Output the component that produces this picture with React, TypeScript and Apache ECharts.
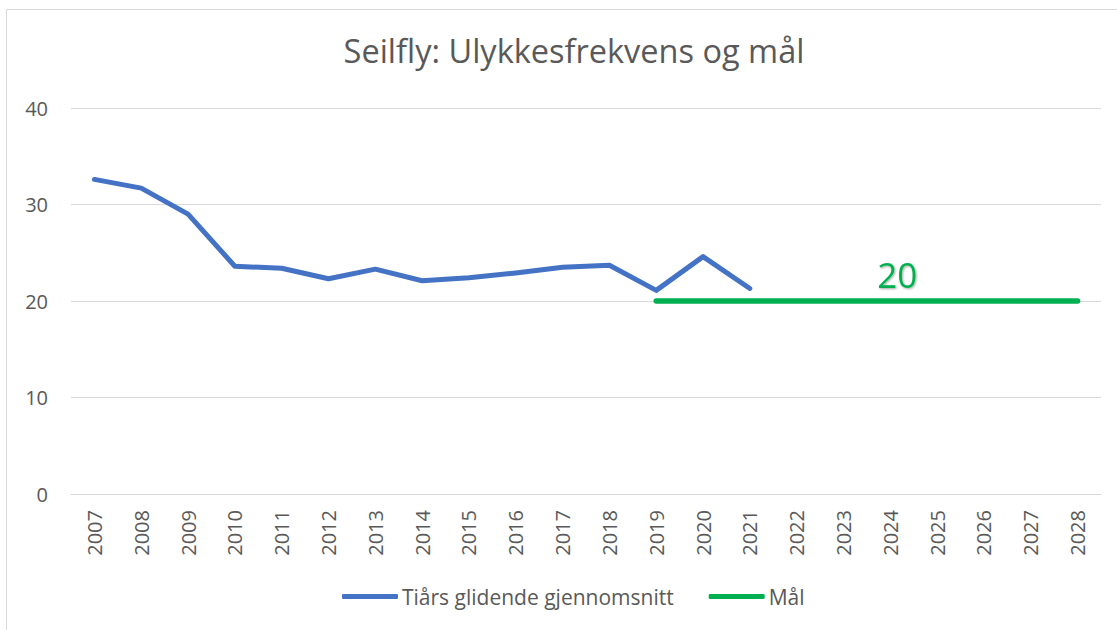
import React, { useEffect, useRef } from "react";
import * as echarts from "echarts";

const years = [
  "2007", "2008", "2009", "2010", "2011", "2012", "2013", "2014", "2015", "2016", "2017",
  "2018", "2019", "2020", "2021", "2022", "2023", "2024", "2025", "2026", "2027", "2028",
];
const averageValues = [
  32.6, 31.7, 29.0, 23.6, 23.4, 22.3, 23.3, 22.1, 22.4, 22.9, 23.5, 23.7, 21.1, 24.6, 21.3,
];
const goalStartYear = "2019";
const goalValue = 20;
const goalLabelYear = "2024";
const yTicks = { min: 0, max: 40, interval: 10 };

const FONT = "'Open Sans', 'Noto Sans', sans-serif";

export default function App() {
  const ref = useRef<HTMLDivElement>(null);

  useEffect(() => {
    document.body.style.margin = "0";
    if (!ref.current) return;
    const chart = echarts.init(ref.current, null, { renderer: "svg" });

    const avgData = years.map((_, i) => (i < averageValues.length ? averageValues[i] : null));
    const startIdx = years.indexOf(goalStartYear);
    const labelIdx = years.indexOf(goalLabelYear);
    const goalData = years.map((_, i) => {
      if (i < startIdx) return null;
      if (i === labelIdx) {
        return {
          value: goalValue,
          label: {
            show: true,
            position: "top",
            distance: 9,
            offset: [7, 0],
            formatter: "{c}",
            color: "#00B050",
            fontSize: 35,
            fontFamily: FONT,
            textShadowColor: "rgba(0,0,0,0.35)",
            textShadowBlur: 2,
            textShadowOffsetX: 1,
            textShadowOffsetY: 1,
          },
        };
      }
      return goalValue;
    });

    chart.setOption({
      animation: false,
      backgroundColor: "#ffffff",
      textStyle: { fontFamily: FONT },
      title: {
        text: "Seilfly: Ulykkesfrekvens og mål",
        left: 569,
        textAlign: "center",
        top: 29,
        textStyle: { color: "#595959", fontSize: 32.5, fontWeight: "normal", fontFamily: FONT },
      },
      graphic: [
        {
          type: "rect",
          shape: { x: 6.5, y: 9.5, width: 1200, height: 700 },
          style: { fill: "none", stroke: "#d9d9d9", lineWidth: 1 },
          silent: true,
        },
      ],
      legend: {
        bottom: 18,
        left: 337,
        itemWidth: 56,
        itemHeight: 5,
        itemGap: 35,
        icon: "roundRect",
        textStyle: { color: "#595959", fontSize: 21, fontFamily: FONT, padding: [0, 0, 0, -1] },
        data: ["Tiårs glidende gjennomsnitt", "Mål"],
      },
      grid: { left: 71, right: 16, top: 108, bottom: 136, containLabel: false },
      xAxis: {
        type: "category",
        data: years,
        boundaryGap: true,
        axisLine: { show: true, lineStyle: { color: "#d9d9d9", width: 1 } },
        axisTick: { show: false },
        axisLabel: {
          rotate: 90,
          margin: 16,
          color: "#595959",
          fontSize: 20,
          fontFamily: FONT,
          interval: 0,
        },
      },
      yAxis: {
        type: "value",
        min: yTicks.min,
        max: yTicks.max,
        interval: yTicks.interval,
        axisLine: { show: false },
        axisTick: { show: false },
        splitLine: { lineStyle: { color: "#d9d9d9", width: 1 } },
        axisLabel: { color: "#595959", fontSize: 20, margin: 23, fontFamily: FONT },
      },
      series: [
        {
          name: "Tiårs glidende gjennomsnitt",
          type: "line",
          data: avgData,
          symbol: "none",
          showSymbol: false,
          itemStyle: { color: "#4472C4" },
          lineStyle: { color: "#4472C4", width: 5, cap: "round", join: "round" },
        },
        {
          name: "Mål",
          type: "line",
          data: goalData,
          symbol: "circle",
          symbolSize: 0,
          showSymbol: true,
          showAllSymbol: true,
          itemStyle: { color: "#00B050" },
          lineStyle: { color: "#00B050", width: 5.5, cap: "round", join: "round" },
        },
      ],
    });

    return () => chart.dispose();
  }, []);

  return <div ref={ref} style={{ width: 1117, height: 630 }} />;
}
